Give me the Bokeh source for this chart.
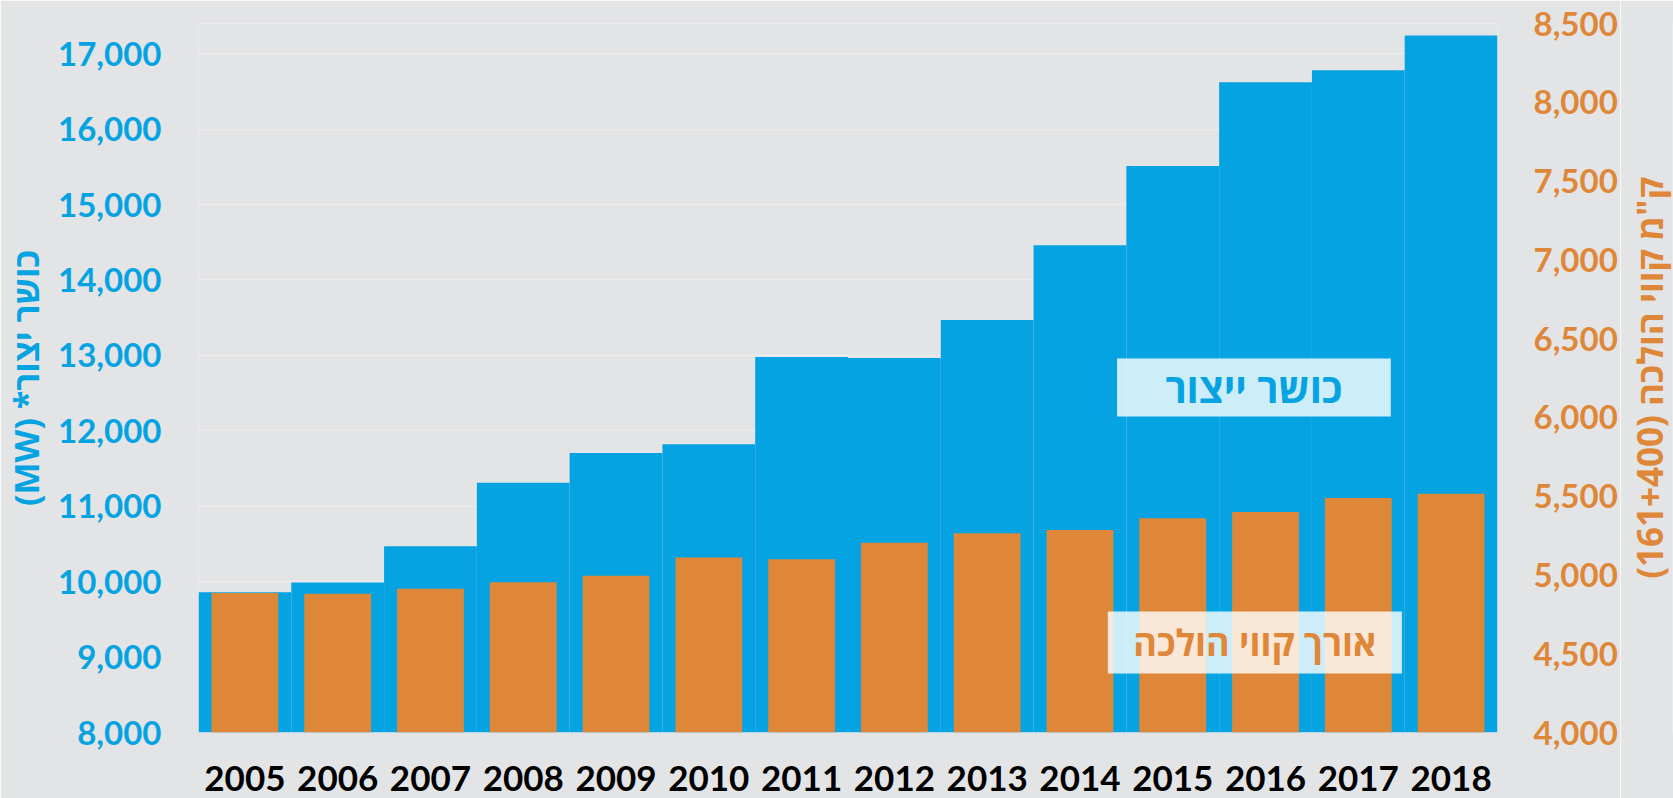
from bokeh.plotting import figure
from bokeh.layouts import row
from bokeh.models import (Range1d, LinearAxis, FactorRange, BoxAnnotation, Label,
                          NumeralTickFormatter, FixedTicker)
from bokeh.embed import file_html
from bokeh.resources import INLINE

# ---- data ----
years = [str(y) for y in range(2005, 2019)]
capacity_mw = [9860, 9990, 10470, 11310, 11705, 11820, 12980, 12965,
               13470, 14460, 15510, 16620, 16780, 17240]
lines_km = [4886, 4880, 4913, 4954, 4995, 5110, 5100, 5204,
            5265, 5286, 5360, 5400, 5489, 5516]
left_ticks = [8000, 9000, 10000, 11000, 12000, 13000, 14000, 15000, 16000, 17000]
right_ticks = [4000, 4500, 5000, 5500, 6000, 6500, 7000, 7500, 8000, 8500]
RLE, PDF = "\u202b", "\u202c"
left_title = RLE + "כושר יצור* (MW)" + PDF
right_title = RLE + 'ק"מ קווי הולכה (161+400)' + PDF
label_capacity = "כושר ייצור"
label_lines = "אורך קווי הולכה"

BLUE = "#05a3e1"
ORANGE = "#df8739"
BG = "#e3e4e6"
NUM_FONT = "Lato, 'Open Sans', sans-serif"
HEB_FONT = "'Open Sans', 'DejaVu Sans', sans-serif"

p = figure(width=1620, height=798, x_range=FactorRange(*years),
           y_range=Range1d(8000, 17400), output_backend="svg",
           toolbar_location=None,
           min_border_left=195, min_border_right=120,
           min_border_top=23, min_border_bottom=66)
p.extra_y_ranges = {"km": Range1d(4000, 8500)}

p.background_fill_color = BG
p.border_fill_color = BG
p.outline_line_color = None
p.xgrid.grid_line_color = None
p.ygrid.ticker = FixedTicker(ticks=left_ticks)
p.ygrid.grid_line_color = "#ececec"
p.ygrid.grid_line_width = 1.5
p.ygrid.level = "underlay"

# blue stepped area (generation capacity)
p.vbar(x=years, top=capacity_mw, bottom=8000, width=1.0,
       fill_color=BLUE, line_color=None)
# orange bars (transmission line length)
p.vbar(x=years, top=lines_km, bottom=4000, width=0.72, y_range_name="km",
       fill_color=ORANGE, line_color=None)


def plain_axis(ax):
    ax.axis_line_color = None
    ax.major_tick_line_color = None
    ax.major_tick_out = 0
    ax.major_tick_in = 0
    ax.minor_tick_line_color = None
    ax.minor_tick_out = 0


# left axis
ya = p.yaxis[0]
plain_axis(ya)
ya.ticker = FixedTicker(ticks=left_ticks)
ya.formatter = NumeralTickFormatter(format="0,0")
ya.major_label_text_font = NUM_FONT
ya.major_label_text_font_size = "33px"
ya.major_label_text_font_style = "bold"
ya.major_label_text_color = BLUE
ya.major_label_standoff = 37
ya.axis_label = left_title
ya.axis_label_text_font = HEB_FONT
ya.axis_label_text_font_size = "34px"
ya.axis_label_text_font_style = "bold"
ya.axis_label_text_color = BLUE
ya.axis_label_standoff = 6

# right axis (values)
ra = LinearAxis(y_range_name="km", ticker=FixedTicker(ticks=right_ticks),
                formatter=NumeralTickFormatter(format="0,0"))
plain_axis(ra)
ra.major_label_text_font = NUM_FONT
ra.major_label_text_font_size = "33px"
ra.major_label_text_font_style = "bold"
ra.major_label_text_color = ORANGE
ra.major_label_standoff = 36
p.add_layout(ra, "right")

# x axis
xa = p.xaxis[0]
plain_axis(xa)
xa.major_label_text_font = NUM_FONT
xa.major_label_text_font_size = "35px"
xa.major_label_text_font_style = "bold"
xa.major_label_text_color = "#000000"
xa.major_label_standoff = 33

# legend-like boxes
p.add_layout(BoxAnnotation(left=9.9, right=12.85, bottom=12190, top=12960,
                           fill_color="white", fill_alpha=0.8, line_color=None))
p.add_layout(Label(x=11.375, y=12575, text=label_capacity, text_align="center",
                   text_baseline="middle", text_font=HEB_FONT, text_font_size="40px",
                   text_font_style="bold", text_color=BLUE))
p.add_layout(BoxAnnotation(left=9.8, right=12.97, bottom=8782, top=9604,
                           fill_color="white", fill_alpha=0.8, line_color=None))
p.add_layout(Label(x=11.385, y=9193, text=label_lines, text_align="center",
                   text_baseline="middle", text_font=HEB_FONT, text_font_size="36px",
                   text_font_style="bold", text_color=ORANGE))

# narrow strip on the right carrying the right-hand title (reads bottom-to-top)
p2 = figure(width=53, height=798, y_range=Range1d(4000, 8500),
            x_range=Range1d(0, 1), output_backend="svg", toolbar_location=None,
            min_border_left=52, min_border_right=0,
            min_border_top=23, min_border_bottom=66)
p2.background_fill_color = BG
p2.border_fill_color = BG
p2.outline_line_color = None
p2.grid.grid_line_color = None
p2.xaxis.visible = False
ty = p2.yaxis[0]
plain_axis(ty)
ty.ticker = FixedTicker(ticks=[])
ty.major_label_text_font_size = "0px"
ty.major_label_standoff = 0
ty.axis_label = right_title
ty.axis_label_text_font = HEB_FONT
ty.axis_label_text_font_size = "35px"
ty.axis_label_text_font_style = "bold"
ty.axis_label_text_color = ORANGE
ty.axis_label_standoff = 0

layout = row(p, p2, spacing=0)

html = file_html(layout, INLINE)
html = html.replace("<body>",
                    '<body style="background-color:%s;margin:0;overflow:hidden;">' % BG, 1)
open("out.html", "w").write(html)
